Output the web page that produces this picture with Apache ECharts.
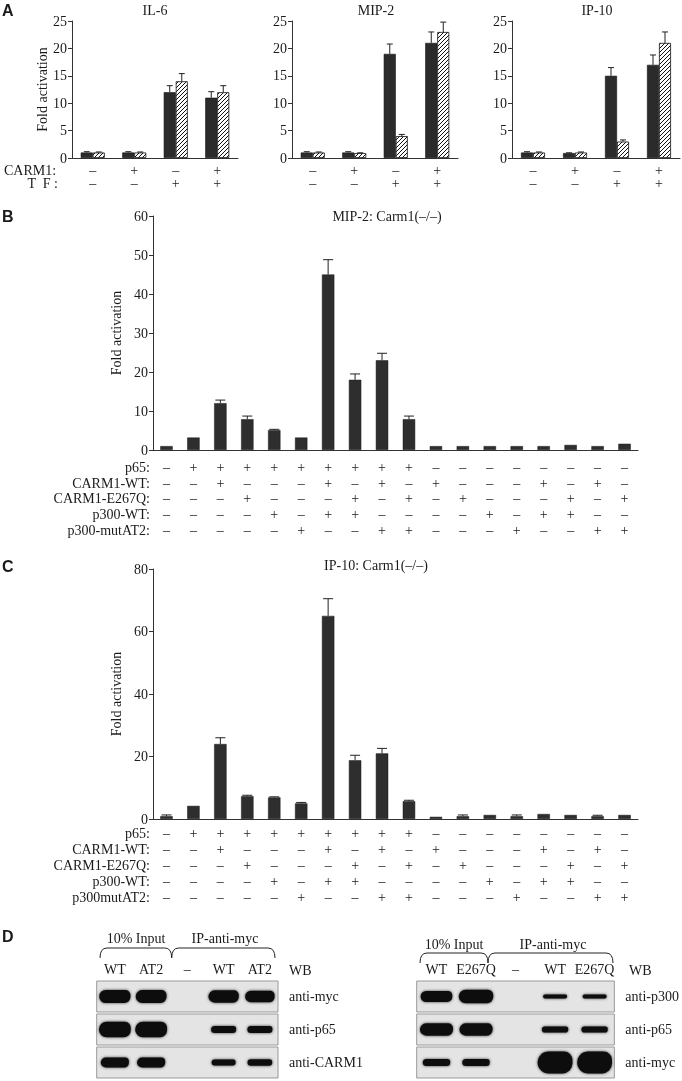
<!DOCTYPE html>
<html><head><meta charset="utf-8">
<script src="https://cdn.jsdelivr.net/npm/echarts@6/dist/echarts.min.js"></script>
<style>html,body{margin:0;padding:0;background:#fff}#c{width:682px;height:1081px;filter:grayscale(1)}</style>
</head><body><div id="c"></div>
<script>
// ================= DATA =================
// Panel A
const aGroups = ['1', '2', '3', '4'];
const aCarm1Row = ['–', '+', '–', '+'];
const aTFRow = ['–', '–', '+', '+'];
const il6Solid = [1, 1, 12, 11];
const il6SolidErr = [0.15, 0.15, 1.2, 1.1];
const il6Hatch = [1, 1, 14, 12];
const il6HatchErr = [0.1, 0.1, 1.4, 1.2];
const mip2Solid = [1, 1, 19, 21];
const mip2SolidErr = [0.15, 0.15, 1.8, 2.0];
const mip2Hatch = [1, 0.9, 4, 23];
const mip2HatchErr = [0.1, 0.05, 0.3, 1.8];
const ip10Solid = [1, 0.9, 15, 17];
const ip10SolidErr = [0.15, 0.05, 1.5, 1.8];
const ip10Hatch = [1, 1, 3, 21];
const ip10HatchErr = [0.1, 0.1, 0.3, 2.0];

// Panels B and C
const conditions = ['1','2','3','4','5','6','7','8','9','10','11','12','13','14','15','16','17','18'];
const p65Row     = ['–','+','+','+','+','+','+','+','+','+','–','–','–','–','–','–','–','–'];
const carmWtRow  = ['–','–','+','–','–','–','+','–','+','–','+','–','–','–','+','–','+','–'];
const carmMutRow = ['–','–','–','+','–','–','–','+','–','+','–','+','–','–','–','+','–','+'];
const p300WtRow  = ['–','–','–','–','+','–','+','+','–','–','–','–','+','–','+','+','–','–'];
const p300MutRow = ['–','–','–','–','–','+','–','–','+','+','–','–','–','+','–','–','+','+'];
const rowNamesB = ['p65:', 'CARM1-WT:', 'CARM1-E267Q:', 'p300-WT:', 'p300-mutAT2:'];
const rowNamesC = ['p65:', 'CARM1-WT:', 'CARM1-E267Q:', 'p300-WT:', 'p300mutAT2:'];
const mip2Carm    = [1, 3.2, 12, 7.9, 5.1, 3.2, 45, 18, 23, 7.9, 1, 1, 1, 1, 1, 1.3, 1, 1.6];
const mip2CarmErr = [0, 0, 0.8, 0.8, 0.2, 0, 3.8, 1.5, 1.8, 0.8, 0, 0, 0, 0, 0, 0, 0, 0];
const ip10Carm    = [0.9, 4.2, 24, 7.3, 6.9, 5.0, 65, 18.8, 21, 5.7, 0.7, 0.9, 1.3, 0.9, 1.6, 1.3, 0.9, 1.3];
const ip10CarmErr = [0.4, 0, 2, 0.3, 0.2, 0.3, 5.5, 1.6, 1.6, 0.3, 0, 0.4, 0, 0.4, 0, 0, 0.3, 0];

// Panel D (western blots) - relative band intensities
const blotLeftLanes = ['WT', 'AT2', '–', 'WT', 'AT2'];
const blotLeftRows = ['anti-myc', 'anti-p65', 'anti-CARM1'];
const blotLeftIntensity = [
  [0.6, 0.58, 0, 0.56, 0.52],
  [0.7, 0.7, 0, 0.32, 0.32],
  [0.46, 0.46, 0, 0.27, 0.3]
];
const blotRightLanes = ['WT', 'E267Q', '–', 'WT', 'E267Q'];
const blotRightRows = ['anti-p300', 'anti-p65', 'anti-myc'];
const blotRightIntensity = [
  [0.5, 0.62, 0, 0.18, 0.18],
  [0.56, 0.56, 0, 0.28, 0.28],
  [0.32, 0.32, 0, 1.0, 1.0]
];

// ================= STYLE =================
const SERIF = '"Liberation Serif", "Times New Roman", serif';
const SANS = '"Liberation Sans", Arial, sans-serif';
const INK = '#1a1a1a';
const AX = {color: '#333', width: 1};
const BW_A = 12;
const BAND_MAX_H = 22;

const hc = document.createElement('canvas');
hc.width = 4; hc.height = 4;
const hctx = hc.getContext('2d');
hctx.fillStyle = '#fff'; hctx.fillRect(0, 0, 4, 4);
hctx.strokeStyle = '#111'; hctx.lineWidth = 1;
hctx.beginPath();
hctx.moveTo(0, 4); hctx.lineTo(4, 0);
hctx.moveTo(-1, 1); hctx.lineTo(1, -1);
hctx.moveTo(3, 5); hctx.lineTo(5, 3);
hctx.stroke();

const grids = [], xAxes = [], yAxes = [], series = [], graphics = [];
const addGrid = g => (grids.push(g), grids.length - 1);
const addX = a => (xAxes.push(a), xAxes.length - 1);
const addY = a => (yAxes.push(a), yAxes.length - 1);

function signAxis(gi, data, offset, name, nameGap) {
  return addX({
    gridIndex: gi, type: 'category', data: data, position: 'bottom', offset: offset,
    axisLine: {show: false}, axisTick: {show: false}, splitLine: {show: false},
    axisLabel: {interval: 0, margin: 0, verticalAlign: 'middle', fontFamily: SERIF, fontSize: 14, color: INK},
    name: name || '', nameLocation: 'start', nameGap: nameGap || 0,
    nameTextStyle: {fontFamily: SERIF, fontSize: 14, color: INK, verticalAlign: 'middle', align: 'right'}
  });
}

function errSeries(xi, yi, vals, errs, dx, capW) {
  return {
    type: 'custom', xAxisIndex: xi, yAxisIndex: yi, silent: true, z: 3,
    data: vals.map((v, i) => [i, v, errs[i]]),
    renderItem: function (params, api) {
      const e = api.value(2);
      if (!e) return null;
      const b = api.coord([api.value(0), api.value(1)]);
      const t = api.coord([api.value(0), api.value(1) + e]);
      const x = b[0] + dx;
      return {type: 'group', children: [
        {type: 'line', shape: {x1: x, y1: b[1], x2: x, y2: t[1]}, style: {stroke: '#222', lineWidth: 1}},
        {type: 'line', shape: {x1: x - capW / 2, y1: t[1], x2: x + capW / 2, y2: t[1]}, style: {stroke: '#222', lineWidth: 1}}
      ]};
    }
  };
}

function panelA(left, width, solid, solidErr, hatch, hatchErr, withNames) {
  const gi = addGrid({left: left, top: 21, width: width, height: 137});
  const xi = addX({gridIndex: gi, type: 'category', data: aGroups,
    axisLine: {lineStyle: AX}, axisTick: {length: 4, lineStyle: AX}, axisLabel: {show: false}});
  const yi = addY({gridIndex: gi, type: 'value', min: 0, max: 25, interval: 5,
    axisLine: {show: true, lineStyle: AX}, axisTick: {show: true, length: 4, lineStyle: AX},
    splitLine: {show: false},
    axisLabel: {fontFamily: SERIF, fontSize: 14, color: INK, margin: 5},
    name: withNames ? 'Fold activation' : '', nameLocation: 'middle', nameGap: 23,
    nameTextStyle: {fontFamily: SERIF, fontSize: 14, color: INK}});
  signAxis(gi, aCarm1Row, 12, withNames ? 'CARM1:' : '', 14);
  signAxis(gi, aTFRow, 25, withNames ? 'T  F :' : '', 14);
  series.push({type: 'bar', xAxisIndex: xi, yAxisIndex: yi, data: solid, barWidth: BW_A, barGap: '0%',
    itemStyle: {color: '#2b2b2b', borderColor: '#111', borderWidth: 0.6}, silent: true});
  series.push({type: 'bar', xAxisIndex: xi, yAxisIndex: yi, data: hatch, barWidth: BW_A, barGap: '0%',
    itemStyle: {color: {image: hc, repeat: 'repeat'}, borderColor: '#111', borderWidth: 0.8}, silent: true});
  series.push(errSeries(xi, yi, solid, solidErr, -BW_A / 2, 6));
  series.push(errSeries(xi, yi, hatch, hatchErr, BW_A / 2, 6));
}

function panelBC(top, height, max, interval, vals, errs, rowNames, offsets, nameGap) {
  const gi = addGrid({left: 153, top: top, width: 485, height: height});
  const xi = addX({gridIndex: gi, type: 'category', data: conditions,
    axisLine: {lineStyle: AX}, axisTick: {length: 4, lineStyle: AX}, axisLabel: {show: false}});
  const yi = addY({gridIndex: gi, type: 'value', min: 0, max: max, interval: interval,
    axisLine: {show: true, lineStyle: AX}, axisTick: {show: true, length: 4, lineStyle: AX},
    splitLine: {show: false},
    axisLabel: {fontFamily: SERIF, fontSize: 14, color: INK, margin: 5},
    name: 'Fold activation', nameLocation: 'middle', nameGap: nameGap,
    nameTextStyle: {fontFamily: SERIF, fontSize: 14, color: INK}});
  const rows = [p65Row, carmWtRow, carmMutRow, p300WtRow, p300MutRow];
  rows.forEach((r, k) => signAxis(gi, r, offsets[k], rowNames[k], 3));
  series.push({type: 'bar', xAxisIndex: xi, yAxisIndex: yi, data: vals, barWidth: '46%',
    itemStyle: {color: '#2e2e2e', borderColor: '#1a1a1a', borderWidth: 0.5}, silent: true});
  series.push(errSeries(xi, yi, vals, errs, 0, 10));
}

function blot(left, width, lanes, rows, intensity) {
  const gi = addGrid({left: left, top: 980, width: width, height: 99});
  const xi = addX({gridIndex: gi, type: 'category', data: lanes, position: 'top',
    axisLine: {show: false}, axisTick: {show: false},
    axisLabel: {interval: 0, margin: 4, fontFamily: SERIF, fontSize: 14, color: INK}});
  const yi = addY({gridIndex: gi, type: 'category', data: rows, inverse: true, position: 'right',
    axisLine: {show: false}, axisTick: {show: false}, splitLine: {show: false},
    axisLabel: {interval: 0, margin: 11, fontFamily: SERIF, fontSize: 14, color: INK}});
  series.push({type: 'custom', xAxisIndex: xi, yAxisIndex: yi, silent: true, z: 1,
    data: rows.map((r, i) => [0, i]),
    renderItem: function (params, api) {
      const cs = params.coordSys;
      const c = api.coord([0, api.value(1)]);
      const rh = api.size([0, 1])[1];
      return {type: 'rect', shape: {x: cs.x, y: c[1] - rh / 2 + 1, width: cs.width, height: rh - 2},
        style: {fill: '#e4e4e4', stroke: '#999', lineWidth: 1}};
    }});
  const bands = [];
  intensity.forEach((row, r) => row.forEach((v, l) => bands.push([l, r, v])));
  series.push({type: 'custom', xAxisIndex: xi, yAxisIndex: yi, silent: true, z: 2,
    data: bands,
    renderItem: function (params, api) {
      const I = api.value(2);
      if (!I) return null;
      const c = api.coord([api.value(0), api.value(1)]);
      const lw = api.size([1, 0])[0];
      const w = lw * Math.min(0.88, 0.5 + 0.6 * I);
      const h = Math.max(3, I * BAND_MAX_H);
      return {type: 'rect', shape: {x: c[0] - w / 2, y: c[1] - h / 2, width: w, height: h, r: [h / 2, h / 2.6, h / 2.2, h / 2]},
        style: {fill: '#0d0d0d', shadowBlur: 3, shadowColor: 'rgba(0,0,0,0.75)'}};
    }});
}

// Panel A
panelA(72, 166, il6Solid, il6SolidErr, il6Hatch, il6HatchErr, true);
panelA(292, 166, mip2Solid, mip2SolidErr, mip2Hatch, mip2HatchErr, false);
panelA(512, 168, ip10Solid, ip10SolidErr, ip10Hatch, ip10HatchErr, false);
// Panel B and C
panelBC(216, 234, 60, 10, mip2Carm, mip2CarmErr, rowNamesB, [17, 33, 48, 64, 80], 26);
panelBC(569, 250, 80, 20, ip10Carm, ip10CarmErr, rowNamesC, [14, 30, 46, 62, 78.5], 28);
// Panel D
blot(96.7, 181.3, blotLeftLanes, blotLeftRows, blotLeftIntensity);
blot(416.7, 203.3, blotRightLanes, blotRightRows, blotRightIntensity);

function txt(x, y, s, font, align) {
  graphics.push({type: 'text', x: x, y: y, silent: true,
    style: {text: s, font: font, fill: INK, align: align || 'center', verticalAlign: 'middle'}});
}
const F14 = '14px ' + SERIF;
const FL = 'bold 16px ' + SANS;
txt(2, 10, 'A', FL, 'left');
txt(2, 216, 'B', FL, 'left');
txt(2, 566, 'C', FL, 'left');
txt(2, 936, 'D', FL, 'left');
txt(155, 10, 'IL-6', F14);
txt(376, 10, 'MIP-2', F14);
txt(597, 10, 'IP-10', F14);
txt(387, 216, 'MIP-2: Carm1(–/–)', F14);
txt(376, 565, 'IP-10: Carm1(–/–)', F14);
txt(136, 938, '10% Input', F14);
txt(225, 938, 'IP-anti-myc', F14);
txt(289, 970, 'WB', F14, 'left');
txt(454, 944, '10% Input', F14);
txt(553, 944, 'IP-anti-myc', F14);
txt(629, 970, 'WB', F14, 'left');

function brace(x1, x2, yt, yb) {
  const st = {fill: 'none', stroke: '#222', lineWidth: 1};
  graphics.push({type: 'bezierCurve', silent: true,
    shape: {x1: x1, y1: yb, cpx1: x1, cpy1: yt, x2: x1 + 7, y2: yt}, style: st});
  graphics.push({type: 'line', silent: true,
    shape: {x1: x1 + 7, y1: yt, x2: x2 - 7, y2: yt}, style: st});
  graphics.push({type: 'bezierCurve', silent: true,
    shape: {x1: x2 - 7, y1: yt, cpx1: x2, cpy1: yt, x2: x2, y2: yb}, style: st});
}
brace(100, 171.7, 948, 958);
brace(171.7, 275, 948, 958);
brace(420, 488, 953, 963);
brace(488, 613, 953, 963);

const chart = echarts.init(document.getElementById('c'), null, {renderer: 'svg', width: 682, height: 1081});
chart.setOption({
  animation: false,
  backgroundColor: '#fff',
  grid: grids, xAxis: xAxes, yAxis: yAxes, series: series, graphic: graphics
});
</script>
</body></html>
